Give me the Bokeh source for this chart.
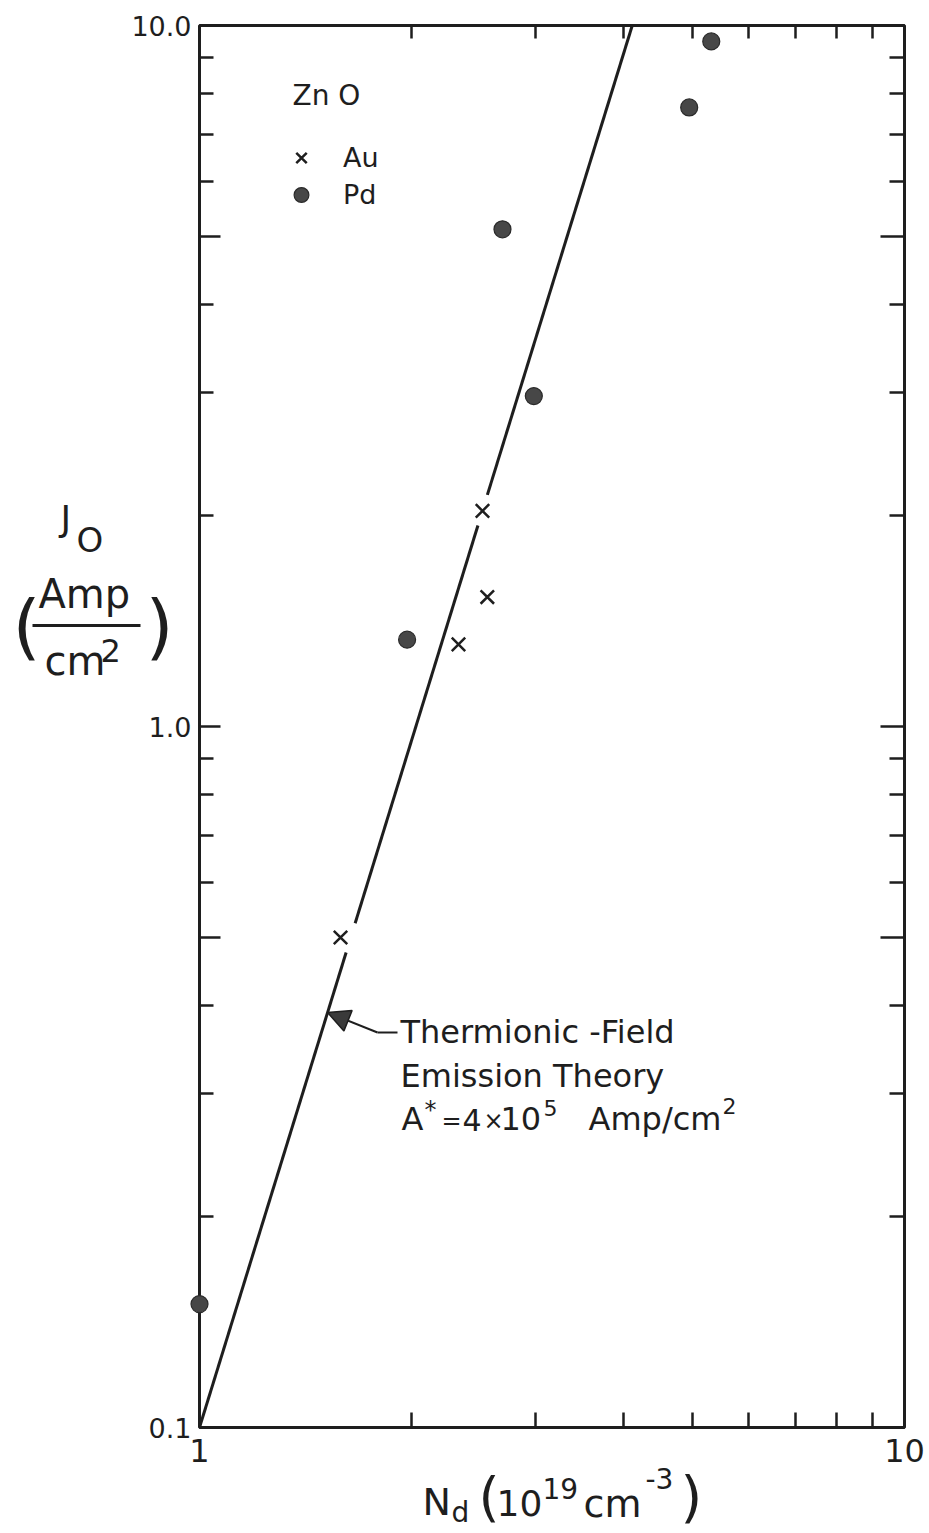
import math

from bokeh.core.properties import value
from bokeh.embed import file_html
from bokeh.models import (Arrow, FixedTicker, Legend, LegendItem,
                          LogAxis, NormalHead, Range1d)
from bokeh.plotting import figure
from bokeh.resources import INLINE

# ---- data: ZnO Schottky contacts, saturation current density vs donor density
au_nd = [1.585, 2.33, 2.56, 2.52]          # Nd (1e19 cm^-3)
au_j = [0.50, 1.31, 1.53, 2.03]            # J0 (A/cm^2)
pd_nd = [1.00, 1.97, 2.69, 2.98, 4.95, 5.32]
pd_j = [0.15, 1.33, 5.12, 2.96, 7.64, 9.49]

# thermionic-field emission theory, a straight line on log-log axes
theory_nd = [1.0, 4.11]
theory_j = [0.1, 10.0]
# the drawn theory line is interrupted where it runs under two Au points
theory_breaks_j = [(0.476, 0.524), (1.935, 2.14)]

x_major = [1, 10]
x_minor = [2, 3, 4, 5, 6, 7, 8, 9]
y_major = [0.1, 0.5, 1, 5, 10]
y_minor = [0.2, 0.3, 0.4, 0.6, 0.7, 0.8, 0.9, 2, 3, 4, 6, 7, 8, 9]
x_labels = {1: "1", 10: "10"}
y_labels = {0.1: "0.1", 0.5: "", 1: "1.0", 5: "", 10: "10.0"}

# ---- page geometry
W, H = 929, 1533
BL, BR, BT, BB = 199, 25, 25, 106
FONT = "DejaVu Sans"
INK = "#1e1e1e"

p = figure(width=W, height=H, x_axis_type="log", y_axis_type="log",
           x_range=Range1d(1, 10), y_range=Range1d(0.1, 10),
           output_backend="svg", toolbar_location=None,
           min_border_left=BL, min_border_right=BR,
           min_border_top=BT, min_border_bottom=BB)
p.xgrid.visible = False
p.ygrid.visible = False
p.outline_line_color = INK
p.outline_line_width = 3
p.background_fill_color = "white"
p.border_fill_color = "white"


def at(px, py):
    """Convert a page pixel position to data coordinates of this frame."""
    fx0, fx1 = BL, W - BR
    fy0, fy1 = H - BB, BT
    x = 10 ** ((px - fx0) / (fx1 - fx0))
    y = 10 ** (-1 + 2 * (fy0 - py) / (fy0 - fy1))
    return x, y


def style_axis(ax, major, minor, labels, major_len, minor_len, size, standoff, show=True):
    ax.ticker = FixedTicker(ticks=major, minor_ticks=minor)
    ax.major_label_overrides = labels if show else {k: "" for k in labels}
    ax.axis_line_color = None
    ax.major_tick_in = major_len
    ax.major_tick_out = 0
    ax.minor_tick_in = minor_len
    ax.minor_tick_out = 0
    ax.major_tick_line_width = 2.5
    ax.minor_tick_line_width = 2.5
    ax.major_tick_line_color = INK
    ax.minor_tick_line_color = INK
    ax.major_label_text_font = FONT
    ax.major_label_text_color = INK
    ax.major_label_text_font_size = size if show else "0px"
    ax.major_label_standoff = standoff


style_axis(p.xaxis[0], x_major, x_minor, x_labels, 0, 15, "32px", 11)
style_axis(p.yaxis[0], y_major, y_minor, y_labels, 21, 14, "27px", 8)

top = LogAxis()
style_axis(top, x_major, x_minor, x_labels, 0, 13, "0px", 0, show=False)
p.add_layout(top, "above")
right = LogAxis()
style_axis(right, y_major, y_minor, y_labels, 24, 15, "0px", 0, show=False)
p.add_layout(right, "right")

# ---- theory line, drawn in pieces around the breaks
lnd0, lnd1 = math.log10(theory_nd[0]), math.log10(theory_nd[1])
lj0, lj1 = math.log10(theory_j[0]), math.log10(theory_j[1])


def nd_on_theory(j):
    return 10 ** (lnd0 + (math.log10(j) - lj0) * (lnd1 - lnd0) / (lj1 - lj0))


cuts = [theory_j[0]] + [v for pair in theory_breaks_j for v in pair] + [theory_j[1]]
seg_x, seg_y = [], []
for j_a, j_b in zip(cuts[0::2], cuts[1::2]):
    seg_x.append([nd_on_theory(j_a), nd_on_theory(j_b)])
    seg_y.append([j_a, j_b])
p.multi_line(seg_x, seg_y, line_color=INK, line_width=3)

# ---- measured points (overlay level so the point on the frame edge is whole)
au_r = p.scatter(au_nd, au_j, marker="x", size=19, line_color=INK, line_width=2.5,
                 level="overlay")
pd_r = p.scatter(pd_nd, pd_j, marker="circle", size=17,
                 fill_color="#474747", line_color="#2a2a2a", line_width=1.2,
                 level="overlay")

legend = Legend(items=[LegendItem(label="Au", renderers=[au_r]),
                       LegendItem(label="Pd", renderers=[pd_r])],
                location=(82, 1214), orientation="vertical",
                glyph_width=40, glyph_height=37, spacing=0, padding=0, margin=0,
                label_standoff=22, label_text_font=FONT, label_text_font_size="27px",
                label_text_color=INK, background_fill_alpha=0, border_line_color=None)
p.add_layout(legend)


def label(text, px, py, size):
    """Text whose baseline sits at page pixel row py (left edge at px)."""
    x, y = at(px, py - 0.36 * size)
    p.text(x=[x], y=[y], text=[text], text_font=value(FONT),
           text_font_size=value(f"{size}px"), text_color=INK,
           text_align="left", text_baseline="alphabetic", level="overlay")


def rule(px0, py0, px1, py1, width):
    x0, y0 = at(px0, py0)
    x1, y1 = at(px1, py1)
    p.segment(x0=[x0], y0=[y0], x1=[x1], y1=[y1], line_color=INK,
              line_width=width, level="overlay")


label("Zn O", 292, 105, 28)

# annotation of the theory line
tip_j = at(328, 1012)[1]
a_start = at(377, 1032)
p.add_layout(Arrow(x_start=a_start[0], y_start=a_start[1],
                   x_end=nd_on_theory(tip_j), y_end=tip_j,
                   line_color=INK, line_width=2,
                   end=NormalHead(size=22, fill_color="#3a3a3a", line_color=INK, line_width=1.5)))
rule(377, 1032, 397, 1032, 2)

label("Thermionic -Field", 400, 1043, 32)
label("Emission Theory", 400, 1087, 32)
label("A", 401, 1130, 32)
label("*", 424, 1118, 24)
label("=", 441, 1129, 24)
label("4", 462, 1130, 30)
label("\u00d7", 483, 1129, 24)
label("10", 500, 1130, 32)
label("5", 543, 1115, 22)
label("Amp/cm", 588, 1130, 32)
label("2", 722, 1113, 22)

# ---- y axis title: J0 (Amp / cm^2)
label("J", 60, 531, 36)
label("O", 76, 552, 34)
label("(", 12, 651, 72)
label("Amp", 38, 608, 40)
label("cm", 44, 675, 40)
label("2", 100, 662, 32)
label(")", 145, 651, 72)
rule(32, 625, 140, 625, 3)

# ---- x axis title: Nd (10^19 cm^-3)
label("N", 422, 1515, 38)
label("d", 451, 1522, 28)
label("(", 478, 1516, 54)
label("10", 496, 1515, 36)
label("19", 542, 1498, 28)
label("cm", 583, 1517, 38)
label("-3", 645, 1488, 28)
label(")", 680, 1516, 56)

open("out.html", "w").write(file_html(p, INLINE))
